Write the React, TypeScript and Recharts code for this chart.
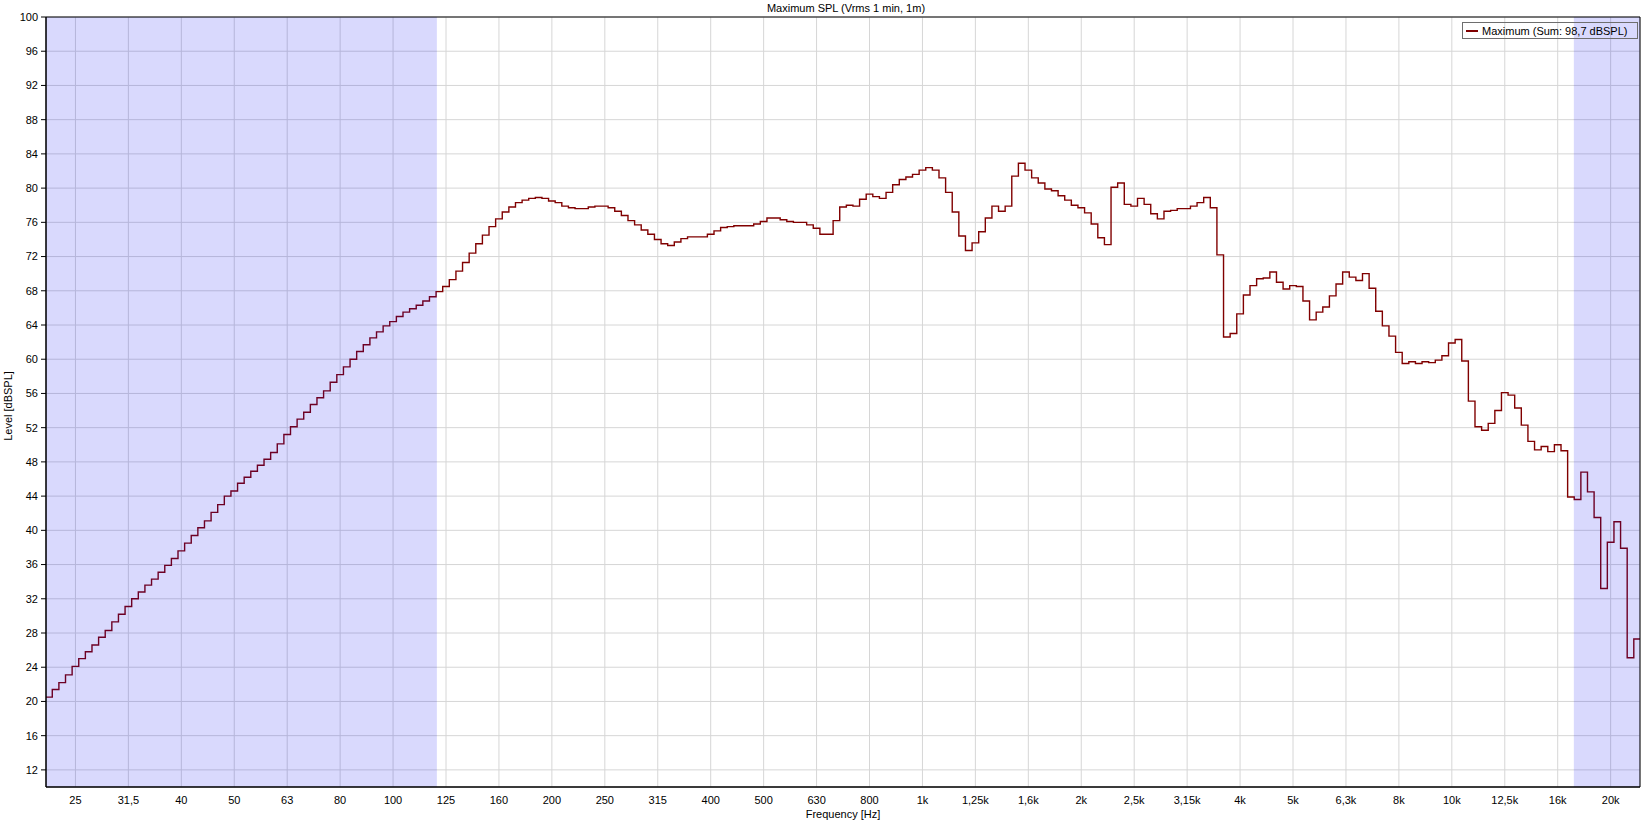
import React from 'react';
import { LineChart, Line, XAxis, YAxis, CartesianGrid, ReferenceArea, Legend } from 'recharts';

// 1/24-octave bands, band n is centred on 10^(n/80) Hz
const FIRST_BAND = 108;

// levels in dBSPL read per band, low end (22 Hz .. 117 Hz)
const levelsLow = [
  20.5, 21.4, 22.2, 23.1, 24.1, 25.0, 25.8, 26.6, 27.5, 28.3,
  29.3, 30.2, 31.1, 32.0, 32.8, 33.6, 34.3, 35.1, 35.9, 36.7,
  37.6, 38.5, 39.4, 40.3, 41.1, 42.1, 43.0, 44.0, 44.6, 45.5,
  46.2, 46.9, 47.6, 48.3, 49.1, 50.1, 51.2, 52.1, 53.0, 53.8,
  54.7, 55.5, 56.3, 57.3, 58.2, 59.1, 60.0, 60.9, 61.7, 62.5,
  63.2, 63.9, 64.4, 65.0, 65.5, 65.9, 66.3, 66.8, 67.3, 67.9,
];

// 120 Hz .. 600 Hz
const levelsMid = [
  68.5, 69.3, 70.3, 71.3, 72.4, 73.5, 74.5, 75.5, 76.4, 77.2,
  77.8, 78.3, 78.6, 78.8, 78.9, 78.8, 78.5, 78.3, 77.9, 77.7,
  77.6, 77.6, 77.8, 77.9, 77.9, 77.7, 77.3, 76.8, 76.2, 75.7,
  75.1, 74.6, 74.0, 73.5, 73.3, 73.7, 74.1, 74.3, 74.3, 74.3,
  74.6, 75.0, 75.4, 75.5, 75.6, 75.6, 75.6, 75.8, 76.1, 76.5,
  76.5, 76.3, 76.1, 76.0, 76.0, 75.7, 75.3, 74.6, 74.6, 76.2,
];

// 600 Hz .. 3.8 kHz
const levelsUpper = [
  77.8, 78.0, 77.9, 78.7, 79.3, 79.0, 78.8, 79.5, 80.4, 81.0,
  81.3, 81.6, 82.1, 82.4, 82.1, 81.2, 79.5, 77.2, 74.4, 72.7,
  73.6, 74.9, 76.5, 77.9, 77.3, 77.9, 81.4, 82.9, 82.1, 81.2,
  80.6, 79.9, 79.7, 79.1, 78.6, 78.0, 77.7, 77.1, 75.8, 74.2,
  73.4, 80.1, 80.6, 78.1, 77.9, 78.8, 78.1, 77.0, 76.4, 77.3,
  77.4, 77.6, 77.6, 77.9, 78.3, 78.9, 77.7, 72.2, 62.6, 63.0,
];

// 4 kHz .. 22 kHz
const levelsTop = [
  65.3, 67.5, 68.6, 69.4, 69.5, 70.2, 69.0, 68.2, 68.6, 68.5,
  66.8, 64.6, 65.5, 66.1, 67.4, 68.8, 70.2, 69.6, 69.2, 70.0,
  68.3, 65.6, 63.9, 62.7, 60.8, 59.5, 59.7, 59.5, 59.7, 59.6,
  59.9, 60.4, 61.9, 62.3, 59.8, 55.1, 52.1, 51.7, 52.5, 54.0,
  56.1, 55.8, 54.3, 52.3, 50.4, 49.4, 49.8, 49.2, 50.0, 49.3,
  43.9, 43.6, 46.8, 44.5, 41.5, 33.2, 38.6, 41.0, 37.9, 25.1,
  27.3,
];

const levels = [...levelsLow, ...levelsMid, ...levelsUpper, ...levelsTop];

// one band beyond each end so the steps reach the frame (clipped)
const data = [
  { f: 10 ** ((FIRST_BAND - 1) / 80), level: levels[0] },
  ...levels.map((level, i) => ({ f: 10 ** ((FIRST_BAND + i) / 80), level })),
  { f: 10 ** ((FIRST_BAND + levels.length) / 80), level: levels[levels.length - 1] },
];

const xTickLabels = [
  '25', '31,5', '40', '50', '63', '80', '100', '125', '160', '200',
  '250', '315', '400', '500', '630', '800', '1k', '1,25k', '1,6k', '2k',
  '2,5k', '3,15k', '4k', '5k', '6,3k', '8k', '10k', '12,5k', '16k', '20k',
];
const xTickValues = xTickLabels.map((_, i) => 10 ** ((14 + i) / 10));

const yTicks = [12, 16, 20, 24, 28, 32, 36, 40, 44, 48, 52, 56, 60, 64, 68, 72, 76, 80, 84, 88, 92, 96, 100];
const yMinorTicks = Array.from({ length: 181 }, (_, i) => 10 + i * 0.5);

const F_MIN = 22.1;
const F_MAX = 22670;
const LOW_SHADE_END = 121;
const HIGH_SHADE_START = 17000;

const FONT = '"Liberation Sans", Arial, sans-serif';
const LINE_COLOR = '#800000';

const formatFreq = (v: number) => {
  let best = 0;
  xTickValues.forEach((t, i) => {
    if (Math.abs(Math.log(t / v)) < Math.abs(Math.log(xTickValues[best] / v))) best = i;
  });
  return xTickLabels[best];
};

const LegendBox = (props: any) => {
  const item = props.payload && props.payload[0];
  return (
    <div
      style={{
        boxSizing: 'border-box',
        width: 176,
        height: 17,
        border: '1px solid #6e6e6e',
        display: 'flex',
        alignItems: 'center',
        paddingLeft: 3,
        fontSize: 11,
        fontFamily: FONT,
        color: '#000',
        whiteSpace: 'nowrap',
      }}
    >
      <span style={{ display: 'inline-block', width: 12, height: 2, background: LINE_COLOR, marginRight: 4 }} />
      {item ? item.value : ''}
    </div>
  );
};

const textStyle: React.CSSProperties = {
  position: 'absolute',
  fontSize: 11,
  lineHeight: '14px',
  color: '#000',
  whiteSpace: 'nowrap',
};

export default function App() {
  return (
    <div style={{ position: 'absolute', left: 0, top: 0, width: 1650, height: 822, overflow: 'hidden', fontFamily: FONT }}>
      <LineChart
        width={1650}
        height={822}
        data={data}
        margin={{ top: 17, right: 10, bottom: 0, left: 0 }}
        style={{ fontFamily: FONT }}
      >
        <CartesianGrid stroke="#d6d6d6" />
        <XAxis
          dataKey="f"
          type="number"
          scale="log"
          domain={[F_MIN, F_MAX]}
          allowDataOverflow
          ticks={xTickValues}
          interval={0}
          tickFormatter={formatFreq}
          tickLine={false}
          tickSize={4}
          tickMargin={5}
          height={35}
          axisLine={{ stroke: '#000' }}
          tick={{ fill: '#000', fontSize: 11 }}
        />
        <YAxis
          type="number"
          domain={[10, 100]}
          allowDataOverflow
          ticks={yTicks}
          interval={0}
          width={46}
          tickSize={5}
          tickMargin={3}
          axisLine={{ stroke: '#000' }}
          tickLine={{ stroke: '#000' }}
          tick={{ fill: '#000', fontSize: 11 }}
        />
        <YAxis
          yAxisId="minor"
          type="number"
          domain={[10, 100]}
          allowDataOverflow
          ticks={yMinorTicks}
          interval={0}
          width={0}
          tickSize={3}
          tick={false}
          axisLine={false}
          tickLine={{ stroke: '#000' }}
        />
        <Line
          dataKey="level"
          name="Maximum (Sum: 98,7 dBSPL)"
          type="step"
          stroke={LINE_COLOR}
          strokeWidth={1.4}
          dot={false}
          activeDot={false}
          isAnimationActive={false}
        />
        <ReferenceArea
          x1={F_MIN}
          x2={LOW_SHADE_END}
          y1={10}
          y2={100}
          fill="#0000f0"
          fillOpacity={0.15}
          stroke="none"
          zIndex={450}
        />
        <ReferenceArea
          x1={HIGH_SHADE_START}
          x2={F_MAX}
          y1={10}
          y2={100}
          fill="#0000f0"
          fillOpacity={0.15}
          stroke="none"
          zIndex={450}
        />
        <ReferenceArea
          x1={F_MIN}
          x2={F_MAX}
          y1={10}
          y2={100}
          fill="none"
          stroke="#000"
          zIndex={500}
        />
        <Legend
          layout="horizontal"
          verticalAlign="middle"
          align="center"
          content={<LegendBox />}
          wrapperStyle={{ left: 1462, top: 22, width: 176, height: 17 }}
        />
      </LineChart>
      <div style={{ ...textStyle, left: 646, top: 1, width: 400, textAlign: 'center' }}>
        Maximum SPL (Vrms 1 min, 1m)
      </div>
      <div style={{ ...textStyle, left: 643, top: 807, width: 400, textAlign: 'center' }}>
        Frequency [Hz]
      </div>
      <div
        style={{
          ...textStyle,
          left: 1,
          top: 399,
          width: 14,
          height: 14,
          display: 'flex',
          justifyContent: 'center',
          alignItems: 'center',
        }}
      >
        <span style={{ transform: 'rotate(-90deg)' }}>Level [dBSPL]</span>
      </div>
    </div>
  );
}
